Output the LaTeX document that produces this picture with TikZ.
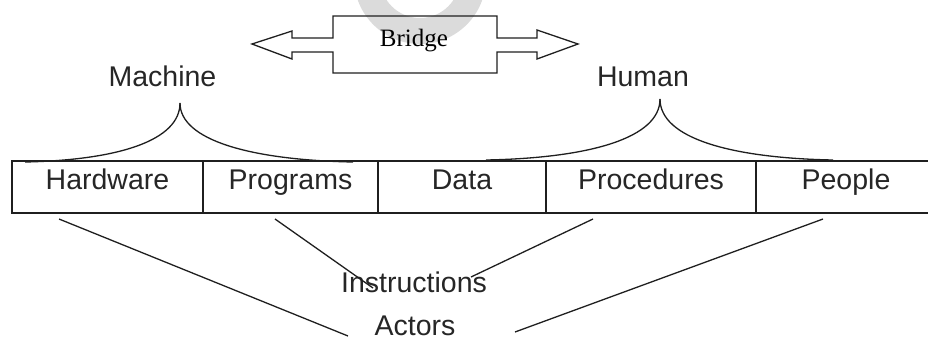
\documentclass[tikz,border=0pt]{standalone}
\usepackage{fontspec}
\setmainfont{Liberation Sans}
\newfontfamily\serifface{Liberation Serif}

\begin{document}
\begin{tikzpicture}[x=1pt,y=-1pt,
  ink/.style={draw=black!88, line width=1.3pt},
  rule/.style={draw=black!88, line width=2.1pt},
  divider/.style={draw=black!88, line width=1.7pt},
  lbl/.style={anchor=base, inner sep=0pt, text=black!85,
              font=\fontsize{28.5}{34}\selectfont},
  bridgelbl/.style={anchor=base, inner sep=0pt, text=black,
              font=\serifface\fontsize{25}{30}\selectfont},
]
\useasboundingbox (0,0) rectangle (928,343);

% faint emblem behind the top
\fill[black!14, even odd rule] (420,-22) circle (66) (420,-22) circle (40);

% Bridge: a box with a double arrow through it
\draw[ink, line join=miter]
  (333,38) -- (333,16) -- (497,16) -- (497,38) -- (537,38) -- (537,30)
  -- (578,44) -- (537,59) -- (537,52) -- (497,52) -- (497,73) -- (333,73)
  -- (333,52) -- (292,52) -- (292,59) -- (252,44) -- (292,31) -- (292,38)
  -- cycle;
\node[bridgelbl] (bridge) at (414,46) {Bridge};

% group labels
\node[lbl] (machine) at (162.5,86) {Machine};
\node[lbl] (human)   at (643,86)   {Human};

% the five components
\node[lbl] (hw) at (107.5,189.5) {Hardware};
\node[lbl] (pg) at (290.5,189.5) {Programs};
\node[lbl] (dt) at (462,189.5)   {Data};
\node[lbl] (pc) at (651,189.5)   {Procedures};
\node[lbl] (pp) at (846,189.5)   {People};

\draw[rule] (928,161) -- (12,161) -- (12,213) -- (928,213);
\foreach \x in {203,378,546,756}
  \draw[divider] (\x,161) -- (\x,213);

% braces
\coordinate (mtip) at (180,103);
\coordinate (mleft) at (25,162);
\coordinate (mright) at (353,162);
\coordinate (htip) at (660,99);
\coordinate (hleft) at (486,160);
\coordinate (hright) at (833,160);
\draw[ink] (mtip) .. controls (180,140) and (120,160) .. (mleft);
\draw[ink] (mtip) .. controls (180,140) and (250,160) .. (mright);
\draw[ink] (htip) .. controls (660,138) and (590,158) .. (hleft);
\draw[ink] (htip) .. controls (660,138) and (730,158) .. (hright);

% bottom labels and their lines
\node[lbl] (instr)  at (414,292) {Instructions};
\node[lbl] (actors) at (415,335) {Actors};

\coordinate (hwfoot) at (59,219);
\coordinate (pgfoot) at (275,219);
\coordinate (pcfoot) at (593,219);
\coordinate (ppfoot) at (823,219);
\coordinate (instrL) at (373,288);
\coordinate (instrR) at (471,277);
\coordinate (actL) at (348,336);
\coordinate (actR) at (515,332);

\draw[ink] (hwfoot) -- (actL);
\draw[ink] (pgfoot) -- (instrL);
\draw[ink] (pcfoot) -- (instrR);
\draw[ink] (ppfoot) -- (actR);
\end{tikzpicture}
\end{document}
